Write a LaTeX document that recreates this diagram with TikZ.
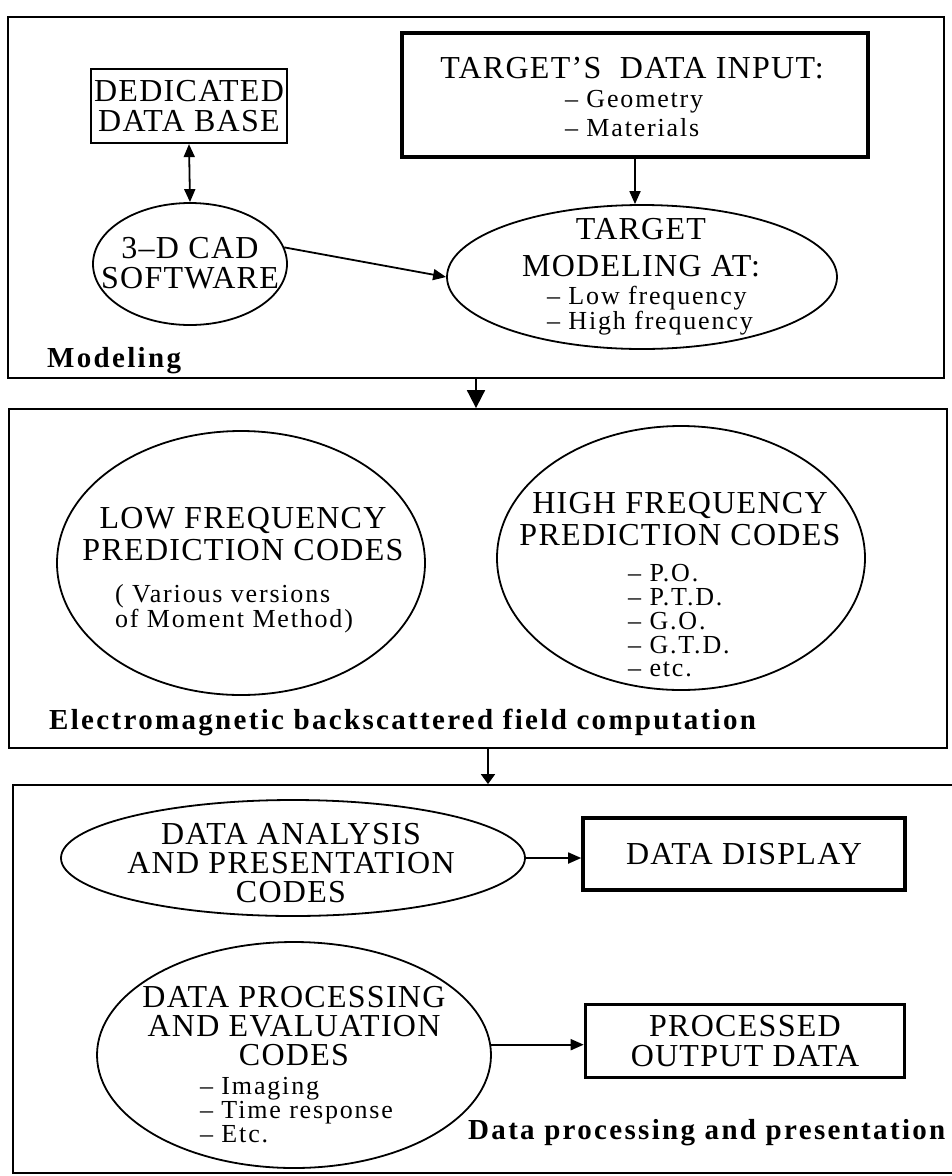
\documentclass[tikz,border=0pt]{standalone}
\usepackage{fontspec}
\setmainfont{Liberation Serif}[LetterSpace=4]
\newfontfamily\itemfont{Liberation Serif}[LetterSpace=7]
\newfontfamily\tagfont{Liberation Serif}[LetterSpace=8]
\usetikzlibrary{shapes.geometric,arrows.meta}
\newcommand\setfs[2]{\fontsize{#1}{#2}\selectfont}
\tikzset{
  panel/.style={draw,line width=1.8pt,inner sep=0pt},
  oval/.style={draw,ellipse,line width=1.8pt,inner sep=0pt},
  thinbox/.style={draw,line width=2.2pt,align=center,inner sep=0pt,
                  font=\setfs{32}{30}},
  boldbox/.style={draw,line width=3.6pt,align=center,inner sep=0pt,
                  font=\setfs{32}{30}},
  title/.style={align=center,inner sep=0pt,anchor=north},
  items/.style={align=left,inner sep=0pt,anchor=north west},
  tag/.style={anchor=base west,inner sep=0pt,
              font=\tagfont\bfseries\setfs{29}{29}},
  arr/.style={-{Triangle[length=13pt,width=11pt]},line width=1.8pt},
  dbl/.style={{Triangle[length=13pt,width=11pt]}-{Triangle[length=13pt,width=11pt]},
              line width=1.8pt},
}

\begin{document}
\begin{tikzpicture}[x=1pt,y=-1pt]
  \useasboundingbox (0,0) rectangle (952,1176);

  \node[panel,minimum width=936pt,minimum height=361pt] (pmod) at (476,197.5) {};
  \node[panel,minimum width=938pt,minimum height=339pt] (pem) at (478,578.5) {};
  \node[panel,minimum width=950pt,minimum height=388pt] (pdp) at (488,979) {};

  \node[thinbox,minimum width=196pt,minimum height=74pt] (db) at (189,106)
    {DEDICATED\\DATA BASE};
  \node[oval,minimum width=194pt,minimum height=122pt] (cad) at (190,264) {};
  \node[boldbox,minimum width=466pt,minimum height=124pt] (tin) at (635,95) {};
  \node[oval,minimum width=390pt,minimum height=144pt] (tm) at (642,277) {};
  \node[oval,minimum width=368pt,minimum height=264pt] (lf) at (241,563) {};
  \node[oval,minimum width=368pt,minimum height=264pt] (hf) at (681,558) {};
  \node[oval,minimum width=464pt,minimum height=116pt] (da) at (293,858) {};
  \node[boldbox,minimum width=322pt,minimum height=72pt] (dd) at (744,854)
    {DATA DISPLAY};
  \node[oval,minimum width=394pt,minimum height=226pt] (dpe) at (294,1055) {};
  \node[boldbox,minimum width=319pt,minimum height=73pt] (pod) at (745,1041)
    {PROCESSED\\OUTPUT DATA};

  \node[title,font=\setfs{32}{30}] (cadtxt) at (190,237) {3–D CAD\\SOFTWARE};
  \node[anchor=base,inner sep=0pt,font=\setfs{32}{30}] (tintxt) at (632,78)
    {TARGET’S\ \ DATA INPUT:};
  \node[items,font=\itemfont\setfs{26}{29}] (tinlist) at (565,90.5)
    {– Geometry\\– Materials};
  \node[title,font=\setfs{32}{37}] (tmtxt) at (641,218) {TARGET\\MODELING AT:};
  \node[items,font=\itemfont\setfs{26}{21}] (tmlist) at (547,286)
    {– Low frequency\\– High frequency};
  \node[title,font=\setfs{32}{32}] (lftxt) at (243,507)
    {LOW FREQUENCY\\PREDICTION CODES};
  \node[items,font=\itemfont\setfs{26}{23}] (lfnote) at (115,584.5)
    {( Various versions\\of Moment Method)};
  \node[title,font=\setfs{32}{32}] (hftxt) at (680,492)
    {HIGH FREQUENCY\\PREDICTION CODES};
  \node[items,font=\itemfont\setfs{26}{23.7}] (hflist) at (628,564.5)
    {– P.O.\\– P.T.D.\\– G.O.\\– G.T.D.\\– etc.};
  \node[title,font=\setfs{32}{29}] (datxt) at (291,823)
    {DATA ANALYSIS\\AND PRESENTATION\\CODES};
  \node[title,font=\setfs{32}{29}] (dptxt) at (294,986)
    {DATA PROCESSING\\AND EVALUATION\\CODES};
  \node[items,font=\itemfont\setfs{26}{22.5}] (dplist) at (200,1077.5)
    {– Imaging\\– Time response\\– Etc.};

  \node[tag] (lblmod) at (47,367) {Modeling};
  \node[tag] (lblem) at (49,729) {Electromagnetic backscattered field computation};
  \node[tag] (lbldp) at (468,1139) {Data processing and presentation};

  \draw[dbl] (db.south) -- (cad.north);
  \draw[arr] (cad.10) -- (tm.west);
  \draw[arr] (tin.south) -- (tin.south |- tm.north);
  \draw[arr] (da.east) -- (da.east -| dd.west);
  \draw[arr] (dpe.3) -- (dpe.3 -| pod.west);
  \draw[-{Triangle[length=18pt,width=18pt]},line width=1.8pt]
    (pmod.south) -- (pmod.south |- pem.north);
  \draw[-{Triangle[length=10pt,width=14pt]},line width=1.8pt]
    (pdp.north |- pem.south) -- (pdp.north);
\end{tikzpicture}
\end{document}
